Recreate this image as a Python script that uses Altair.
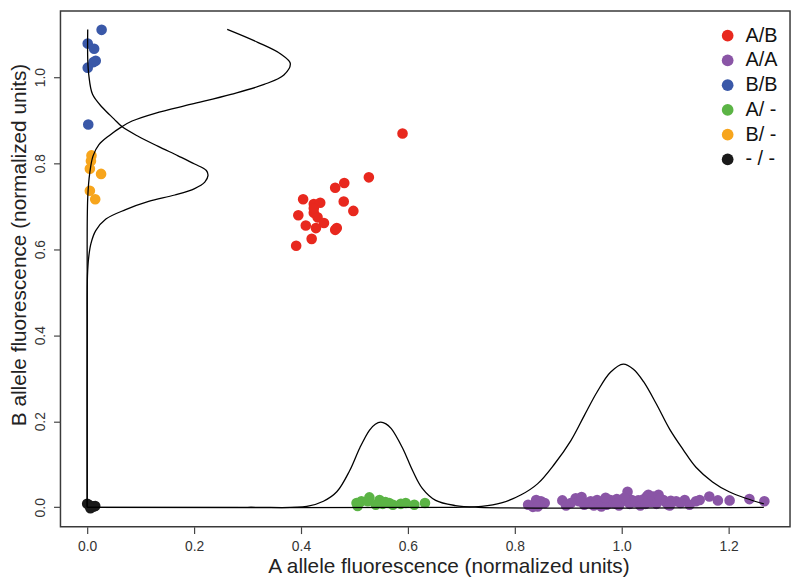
import altair as alt
import pandas as pd

# ---- scatter data ----
ab_x = [0.590, 0.527, 0.481, 0.464, 0.404, 0.424, 0.436, 0.480, 0.498, 0.395,
        0.424, 0.431, 0.443, 0.409, 0.428, 0.464, 0.467, 0.420, 0.391, 0.424]
ab_y = [0.869, 0.767, 0.754, 0.743, 0.716, 0.705, 0.708, 0.711, 0.689, 0.679,
        0.685, 0.674, 0.661, 0.655, 0.649, 0.645, 0.649, 0.624, 0.608, 0.695]

aa_x = [0.825, 0.834, 0.840, 0.849, 0.856, 0.843, 0.889, 0.896, 0.914, 0.920,
        0.930, 0.942, 0.954, 0.967, 0.979, 0.991, 1.001, 1.011, 1.019, 1.031,
        1.047, 1.050, 1.059, 1.069, 1.078, 1.087, 1.102, 1.118, 1.127, 1.139,
        1.146, 1.164, 1.180, 1.202, 1.239, 1.267, 0.935, 0.948, 0.958, 0.962,
        0.972, 0.985, 0.995, 1.005, 1.015, 1.025, 1.035, 1.040, 1.055, 1.065,
        1.072, 1.082, 1.092, 0.905, 0.925, 0.970, 0.990, 1.045, 1.090, 1.110]
aa_y = [0.006, 0.001, 0.017, 0.014, 0.010, 0.002, 0.016, 0.004, 0.021, 0.014,
        0.006, 0.014, 0.017, 0.014, 0.017, 0.019, 0.014, 0.036, 0.017, 0.016,
        0.025, 0.029, 0.025, 0.029, 0.017, 0.006, 0.014, 0.017, 0.006, 0.014,
        0.017, 0.025, 0.016, 0.016, 0.019, 0.014, 0.010, 0.004, 0.008, 0.002,
        0.006, 0.010, 0.004, 0.022, 0.008, 0.012, 0.004, 0.018, 0.012, 0.008,
        0.020, 0.012, 0.015, 0.010, 0.024, 0.022, 0.008, 0.008, 0.004, 0.010]

bb_x = [0.027, 0.001, 0.013, 0.016, 0.012, 0.001, 0.002]
bb_y = [1.110, 1.078, 1.066, 1.038, 1.035, 1.022, 0.890]

a0_x = [0.504, 0.513, 0.528, 0.525, 0.547, 0.553, 0.565, 0.572, 0.587, 0.596,
        0.612, 0.632, 0.506, 0.540, 0.558]
a0_y = [0.010, 0.014, 0.023, 0.014, 0.017, 0.008, 0.010, 0.006, 0.008, 0.010,
        0.006, 0.010, 0.003, 0.006, 0.012]

b0_x = [0.008, 0.007, 0.005, 0.026, 0.005, 0.015]
b0_y = [0.818, 0.805, 0.787, 0.775, 0.736, 0.716]

nn_x = [0.000, 0.004, 0.008, 0.012, 0.015, 0.006]
nn_y = [0.008, 0.005, 0.000, 0.002, 0.003, -0.002]

groups = ["A/B", "A/A", "B/B", "A/ -", "B/ -", "- / -"]
colors = ["#E8281E", "#8A55A6", "#3A58A8", "#5BB445", "#F7A51C", "#1A1A1A"]

# ---- density curves ----
green_cx = [0.0, 0.300, 0.411, 0.442, 0.467, 0.491, 0.510, 0.528, 0.539, 0.549,
            0.559, 0.569, 0.590, 0.609, 0.627, 0.652, 0.689, 0.732, 1.266]
green_cy = [0.0, 0.0, 0.002, 0.014, 0.036, 0.085, 0.138, 0.179, 0.193, 0.198,
            0.194, 0.183, 0.138, 0.085, 0.044, 0.016, 0.004, 0.0, 0.0]

purple_cx = [0.0, 0.689, 0.738, 0.775, 0.812, 0.843, 0.874, 0.905, 0.930, 0.954,
             0.979, 1.003, 1.022, 1.041, 1.065, 1.090, 1.115, 1.139, 1.170, 1.201,
             1.232, 1.266]
purple_cy = [0.0, 0.0, 0.002, 0.010, 0.029, 0.055, 0.100, 0.155, 0.213, 0.268,
             0.314, 0.333, 0.321, 0.292, 0.240, 0.181, 0.134, 0.093, 0.059, 0.036,
             0.021, 0.008]

orange_cx = [0.0, 0.0, 0.0005, 0.003, 0.007, 0.016, 0.035, 0.072, 0.115, 0.164,
             0.201, 0.220, 0.226, 0.223, 0.201, 0.170, 0.133, 0.096, 0.065, 0.050,
             0.028, 0.010, 0.003, 0.001, 0.001]
orange_cy = [0.0, 0.400, 0.538, 0.583, 0.613, 0.643, 0.670, 0.692, 0.711, 0.726,
             0.741, 0.756, 0.771, 0.783, 0.798, 0.817, 0.839, 0.862, 0.885, 0.903,
             0.930, 0.960, 1.005, 1.043, 1.111]

blue_cx = [0.0, 0.0, 0.001, 0.005, 0.011, 0.022, 0.041, 0.065, 0.084, 0.127,
           0.195, 0.269, 0.331, 0.368, 0.380, 0.362, 0.319, 0.262]
blue_cy = [0.0, 0.500, 0.719, 0.779, 0.817, 0.843, 0.864, 0.885, 0.898, 0.916,
           0.937, 0.960, 0.983, 1.005, 1.032, 1.054, 1.081, 1.111]

x_ticks = [0.0, 0.2, 0.4, 0.6, 0.8, 1.0, 1.2]
y_ticks = [0.0, 0.2, 0.4, 0.6, 0.8, 1.0]

# ---- build tables ----
pt_frames = []
for g, xs_, ys_ in zip(groups, [ab_x, aa_x, bb_x, a0_x, b0_x, nn_x],
                       [ab_y, aa_y, bb_y, a0_y, b0_y, nn_y]):
    pt_frames.append(pd.DataFrame({"x": xs_, "y": ys_, "g": g}))
points = pd.concat(pt_frames, ignore_index=True)

cv_frames = []
for name, xs_, ys_ in [("green", green_cx, green_cy), ("purple", purple_cx, purple_cy),
                       ("orange", orange_cx, orange_cy), ("blue", blue_cx, blue_cy)]:
    cv_frames.append(pd.DataFrame({"x": xs_, "y": ys_, "curve": name, "i": range(len(xs_))}))
curves = pd.concat(cv_frames, ignore_index=True)

FONT = "Liberation Sans"
xs = alt.Scale(domain=[-0.05, 1.315], nice=False, zero=False)
ys = alt.Scale(domain=[-0.045, 1.154], nice=False, zero=False)

x_axis = alt.Axis(
    title="A allele fluorescence (normalized units)", values=x_ticks, format=".1f",
    grid=False, domain=False, tickSize=7, tickColor="#444", tickWidth=1.2,
    labelFont=FONT, labelFontSize=14, labelColor="#333", labelPadding=6,
    titleFont=FONT, titleFontSize=21, titleFontWeight="normal", titleColor="#222",
    titleX=392, titleY=46, titleAlign="center", titleBaseline="alphabetic",
)
y_axis = alt.Axis(
    title="B allele fluorescence (normalized units)", values=y_ticks, format=".1f",
    grid=False, domain=False, tickSize=7, tickColor="#444", tickWidth=1.2,
    labelFont=FONT, labelFontSize=14, labelColor="#333", labelPadding=9,
    labelAngle=270, labelAlign="center", labelBaseline="alphabetic",
    titleFont=FONT, titleFontSize=21, titleFontWeight="normal", titleColor="#222",
    titleAngle=270, titleX=-35, titleY=236, titleAlign="center", titleBaseline="alphabetic",
)

pts_layer = alt.Chart(points).mark_circle(size=115, opacity=1).encode(
    x=alt.X("x:Q", scale=xs, axis=x_axis),
    y=alt.Y("y:Q", scale=ys, axis=y_axis),
    color=alt.Color(
        "g:N",
        scale=alt.Scale(domain=groups, range=colors),
        legend=alt.Legend(
            title=None, orient="none", legendX=664, legendY=15, padding=0,
            symbolType="circle", symbolSize=140, symbolOpacity=1, symbolStrokeWidth=0,
            labelFont=FONT, labelFontSize=20, labelColor="#111", labelOffset=8,
            rowPadding=5,
        ),
    ),
)

curve_layer = alt.Chart(curves).mark_line(
    color="black", strokeWidth=1.3, interpolate="catmull-rom"
).encode(
    x=alt.X("x:Q", scale=xs, axis=x_axis),
    y=alt.Y("y:Q", scale=ys, axis=y_axis),
    detail="curve:N",
    order="i:Q",
)

chart = alt.layer(pts_layer, curve_layer).properties(
    width=737, height=521,
    autosize=alt.AutoSizeParams(type="none"),
    padding={"left": 53, "top": 0, "right": 2, "bottom": 53},
).configure_view(stroke="#3a3a3a", strokeWidth=1.5)

chart.save("out.html", embed_options={"renderer": "svg", "actions": False})
